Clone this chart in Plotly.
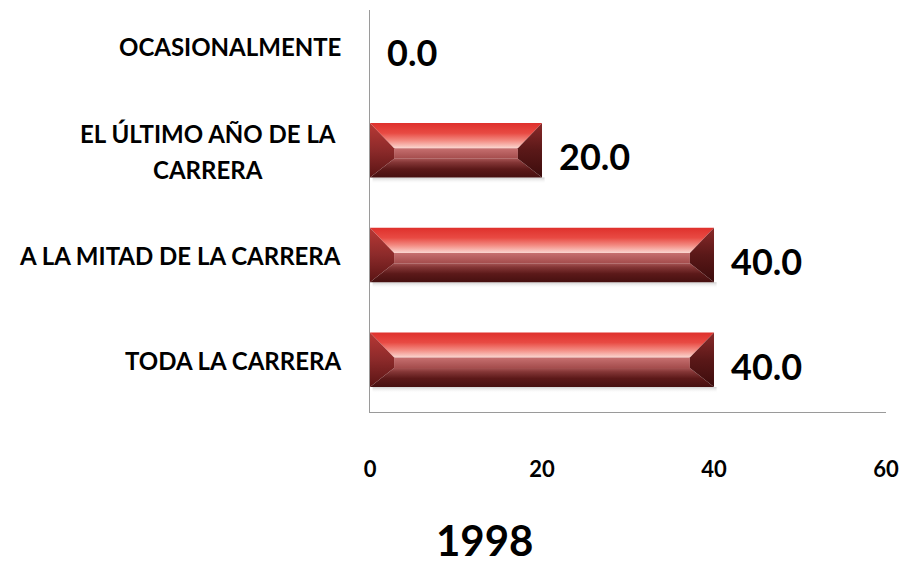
import plotly.graph_objects as go

# ---- data ----
categories = ["TODA LA CARRERA", "A LA MITAD DE LA CARRERA",
              "EL ÚLTIMO AÑO DE LA<br>CARRERA", "OCASIONALMENTE"]
values = [40.0, 40.0, 20.0, 0.0]
x_ticks = [0, 20, 40, 60]
title_text = "1998"

FONT = "Lato, 'Open Sans', sans-serif"

# bevel geometry (category units / value units)
H = 0.26
IT = 0.02
IB = -0.08
D = 2.8

fig = go.Figure()


def poly(xs, ys, scale, gtype="vertical"):
    fig.add_trace(go.Scatter(
        x=xs + [xs[0]], y=ys + [ys[0]], mode="lines", fill="toself",
        line=dict(width=0), fillgradient=dict(type=gtype, colorscale=scale),
        hoverinfo="skip", showlegend=False))


for i, v in enumerate(values):
    if v <= 0:
        continue
    d = min(D, v / 2)
    top, bot = i + H, i - H
    it, ib = i + IT, i + IB
    # soft shadow
    poly([0.3, v + 0.3, v + 0.3, 0.3], [bot, bot, bot - 0.06, bot - 0.06],
         [[0, "rgba(255,255,255,0)"], [1, "rgba(150,150,150,0.45)"]])
    # top bevel
    poly([0, v, v - d, d], [top, top, it, it],
         [[0, "#fbd6d0"], [0.3, "#f38b82"], [0.6, "#e84a43"], [1, "#df302c"]])
    # inner face
    poly([d, v - d, v - d, d], [it, it, ib, ib],
         [[0, "#a44c4c"], [1, "#c77070"]])
    # bottom bevel
    poly([d, v - d, v, 0], [ib, ib, bot, bot],
         [[0, "#461010"], [0.45, "#5c1919"], [0.8, "#843636"], [1, "#a55252"]])
    # left bevel
    poly([0, d, d, 0], [top, it, ib, bot],
         [[0, "#5a1414"], [0.5, "#8c2a2a"], [1, "#b83835"]])
    # right bevel
    poly([v, v, v - d, v - d], [top, bot, ib, it],
         [[0, "#3c0c0c"], [0.5, "#5a1818"], [1, "#8a2a2a"]])

annotations = []
for i, v in enumerate(values):
    annotations.append(dict(
        x=v, y=i, xref="x", yref="y", text=f"<b>{v:.1f}</b>", showarrow=False,
        xanchor="left", yanchor="middle", xshift=15, yshift=-6,
        font=dict(family=FONT, size=36, color="#000")))
    lines = categories[i].split("<br>")
    n = len(lines)
    for k, ln in enumerate(lines):
        off = (n - 1) / 2 - k
        annotations.append(dict(
            x=0, y=i, xref="paper", yref="y", text=f"<b>{ln}</b>", showarrow=False,
            xanchor="right" if n == 1 else "center", yanchor="middle",
            xshift=-27 if n == 1 else -162,
            yshift=off * 36 - 1, align="center",
            font=dict(family=FONT, size=24, color="#000")))

annotations.append(dict(
    x=(485 - 370) / 519, y=(412 - 540) / 402, xref="paper", yref="paper",
    text=f"<b>{title_text}</b>", showarrow=False, xanchor="center", yanchor="middle",
    font=dict(family=FONT, size=42, color="#000")))

fig.update_layout(
    width=909, height=568,
    margin=dict(l=370, r=20, t=10, b=156),
    paper_bgcolor="white", plot_bgcolor="white",
    annotations=annotations,
    xaxis=dict(range=[0, 60], tickvals=x_ticks, ticktext=[f"<b>{t}</b>" for t in x_ticks],
               showgrid=False, zeroline=False, showline=True, linecolor="#9a9a9a",
               linewidth=1, ticks="", ticklabelstandoff=38,
               tickfont=dict(family=FONT, size=22, color="#000"), fixedrange=True),
    yaxis=dict(range=[-0.5, 3.34], showticklabels=False, showgrid=False, zeroline=False,
               showline=True, linecolor="#9a9a9a", linewidth=1, ticks="", fixedrange=True),
)

fig.write_html("out.html", config={"displayModeBar": False},
               post_script="document.body.style.margin='0';")
